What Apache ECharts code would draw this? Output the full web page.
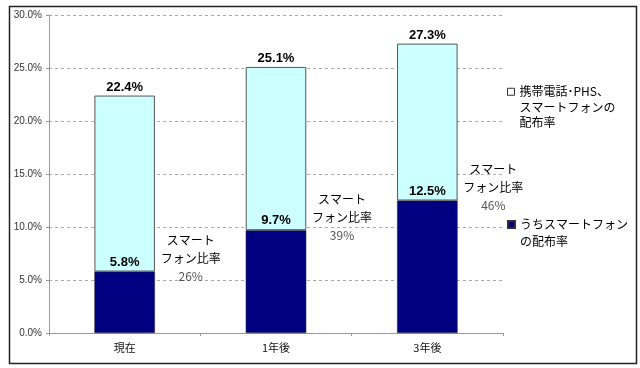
<!DOCTYPE html>
<html><head><meta charset="utf-8">
<script src="https://cdn.jsdelivr.net/npm/echarts@6/dist/echarts.min.js"></script>
<style>html,body{margin:0;padding:0;background:#fff}#c{width:640px;height:368px}</style>
</head><body><div id="c"></div>
<script>
var categories = ['現在', '1年後', '3年後'];
var smartphoneRate = [5.8, 9.7, 12.5];
var totalRate = [22.4, 25.1, 27.3];
var ratioLabels = ['26%', '39%', '46%'];
var yTicks = [0, 5, 10, 15, 20, 25, 30];

var nameTotal = '携帯電話･PHS、スマートフォンの配布率';
var nameSmart = 'うちスマートフォンの配布率';
var otherRate = totalRate.map(function (t, i) { return +(t - smartphoneRate[i]).toFixed(1); });

var jp = '"Noto Sans CJK JP", sans-serif';
var chart = echarts.init(document.getElementById('c'));
chart.setOption({
  animation: false,
  backgroundColor: '#fff',
  graphic: [{
    type: 'rect', left: 7, top: 4, shape: { width: 627, height: 357 },
    style: { fill: 'none', stroke: '#222', lineWidth: 1.5 }, silent: true, z: -1
  }],
  grid: { left: 49, right: 137, top: 15, bottom: 35 },
  legend: [{
    data: [{ name: nameTotal, itemStyle: { color: '#fff', borderColor: '#333', borderWidth: 1 } }],
    left: 507, top: 53, padding: 0, itemWidth: 7, itemHeight: 7, icon: 'rect',
    formatter: function () { return '\n\n携帯電話･PHS、\nスマートフォンの\n配布率'; },
    textStyle: { fontFamily: jp, fontSize: 12, color: '#000', lineHeight: 15.5 }
  }, {
    data: [{ name: nameSmart }],
    left: 507, top: 199, padding: 0, itemWidth: 7, itemHeight: 7, icon: 'rect',
    formatter: function () { return '\nうちスマートフォン\nの配布率'; },
    textStyle: { fontFamily: jp, fontSize: 12, color: '#000', lineHeight: 17 }
  }],
  xAxis: {
    type: 'category', data: categories,
    axisLine: { lineStyle: { color: '#999' } },
    axisTick: { show: true, length: 3, lineStyle: { color: '#999' } },
    axisLabel: { fontFamily: jp, fontSize: 11, color: '#111', margin: 9 }
  },
  yAxis: {
    type: 'value', min: yTicks[0], max: yTicks[yTicks.length - 1], interval: 5,
    axisLine: { show: true, lineStyle: { color: '#999' } },
    axisTick: { show: true, length: 3, lineStyle: { color: '#999' } },
    axisLabel: { fontFamily: '"Liberation Sans", sans-serif', fontSize: 10, color: '#333', margin: 7,
      formatter: function (v) { return v.toFixed(1) + '%'; } },
    splitLine: { lineStyle: { color: '#aaa', type: [3, 3] } }
  },
  series: [{
    name: nameSmart, type: 'bar', stack: 's', barWidth: '40%',
    data: smartphoneRate,
    itemStyle: { color: '#000080', borderColor: '#333', borderWidth: 0.5 },
    label: { show: true, position: 'top', distance: 3,
      fontFamily: '"Liberation Sans", sans-serif', fontWeight: 'bold', fontSize: 13, color: '#000',
      formatter: function (p) { return p.value.toFixed(1) + '%'; } },
    markPoint: {
      symbol: 'circle', symbolSize: 1, itemStyle: { color: 'rgba(0,0,0,0)' },
      data: categories.map(function (c, i) {
        return { coord: [c, smartphoneRate[i]], value: ratioLabels[i] };
      }),
      label: {
        show: true, position: 'inside', offset: [66, -13],
        formatter: function (p) { return '{a|スマート}\n{a|フォン比率}\n{b|' + p.value + '}'; },
        rich: {
          a: { fontFamily: jp, fontSize: 12, color: '#000', lineHeight: 18, align: 'center' },
          b: { fontFamily: jp, fontSize: 12, color: '#555', lineHeight: 18, align: 'center' }
        }
      }
    }
  }, {
    name: nameTotal, type: 'bar', stack: 's',
    data: otherRate,
    itemStyle: { color: '#CCFFFF', borderColor: '#555', borderWidth: 1 },
    label: { show: true, position: 'top', distance: 2,
      fontFamily: '"Liberation Sans", sans-serif', fontWeight: 'bold', fontSize: 13, color: '#000',
      formatter: function (p) { return totalRate[p.dataIndex].toFixed(1) + '%'; } }
  }]
});
</script></body></html>
